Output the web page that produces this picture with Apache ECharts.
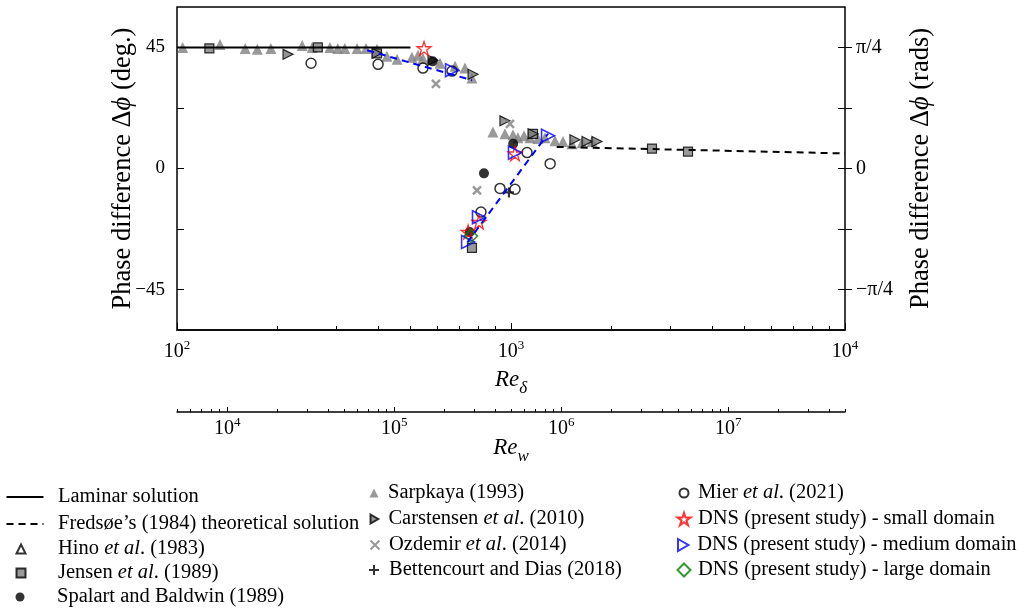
<!DOCTYPE html>
<html><head><meta charset="utf-8">
<script src="https://cdn.jsdelivr.net/npm/echarts@6/dist/echarts.min.js"></script>
<style>html,body{margin:0;padding:0;background:#fff}#c{width:1026px;height:613px}</style>
</head><body><div id="c"></div>
<script>
// ---------- data (Re_delta, phase difference in degrees) ----------
const laminar = [[100, 45], [500, 45]];
const fredsoe = [[1370, 8.0], [10000, 5.6]];
const dnsFitUpper = [[371, 43.9], [764, 32.8]];
const dnsFitLower = [[740, -27.5], [1290, 12.9]];
const hino = [];
const jensen = [[125, 44.6], [264, 45.0], [397, 42.8], [1164, 12.9], [764, -29.5], [2643, 7.4], [3388, 6.3]];
const spalart = [[583, 39.8], [1015, 9.2], [830, -1.8], [752, -23.6]];
const sarpkaya = [
  [104, 45.0], [134.5, 46.1], [160, 44.6], [174, 44.3], [191, 44.6], [237, 45.7], [254, 45.0],
  [287, 45.0], [303, 44.6], [318, 44.6], [346, 44.6], [368, 44.6], [397, 44.3], [425, 41.7],
  [456, 40.6], [505, 41.3], [527, 42.1], [545, 40.9], [613, 39.1], [680, 38.0], [728, 37.3],
  [764, 33.6], [883, 13.6], [959, 12.9], [1014, 12.5], [1049, 11.4], [1094, 12.2], [1140, 11.4],
  [1204, 11.1], [1264, 11.4], [1354, 10.3], [1431, 10.0], [1522, 9.2], [1632, 9.6], [1748, 10.0]
];
const carstensen = [[215, 42.4], [397, 42.8], [584, 40.2], [770, 35.0], [959, 17.7], [1164, 12.9], [1554, 10.7], [1689, 10.0], [1809, 10.0]];
const ozdemir = [[596, 31.4], [993, 16.6], [791, -8.1]];
const bettencourt = [[986, -8.9]];
const mier = [[252, 39.1], [400, 38.7], [545, 37.3], [666, 36.2], [1117, 5.9], [1310, 1.8], [927, -7.4], [1028, -7.7], [813, -16.2]];
const dnsSmall = [[549, 44.6], [1028, 5.5], [802, -19.9], [744, -23.6]];
const dnsMedium = [[666, 36.5], [1291, 12.2], [1028, 5.9], [802, -18.1], [744, -27.3]];
const dnsLarge = [[759, -25.1]];

// ---------- ticks ----------
const yTicksDeg = [-45, -22.5, 0, 22.5, 45];
const yLabelsDeg = [-45, 0, 45];
const degLabelText = { '-45': '\u221245', '0': '0', '45': '45' };
const radLabelText = { '-45': '\u2212\u03c0/4', '0': '0', '45': '\u03c0/4' };
const reDeltaRange = [100, 10000];
const reWRange = [5000, 5e7];
const reWDecades = [4, 5, 6, 7];

const FONT = '"Liberation Serif", "Times New Roman", serif';
const STAR = 'path://M50,2 L61,36 L97,36 L68,57 L79,92 L50,70 L21,92 L32,57 L3,36 L39,36 Z';
const CROSS = 'path://M0,0 L10,10 M10,0 L0,10';
const PLUS = 'path://M5,0 L5,10 M0,5 L10,5';
const RTRI = 'path://M0,0 L17.3,10 L0,20 Z';

function minorLogTicks(lo, hi) {
  const out = [];
  for (let e = Math.floor(Math.log10(lo)); e <= Math.ceil(Math.log10(hi)); e++) {
    for (let k = 2; k <= 9; k++) {
      const v = k * Math.pow(10, e);
      if (v >= lo * 0.999 && v <= hi * 1.001) out.push(Math.log10(v));
    }
  }
  return out;
}
const supRich = {
  b: { fontFamily: FONT, fontSize: 20, lineHeight: 26, color: '#000' },
  s: { fontFamily: FONT, fontSize: 13, lineHeight: 13, verticalAlign: 'top', color: '#000' }
};
const nameRich = {
  i: { fontFamily: FONT, fontSize: 23, fontStyle: 'italic', lineHeight: 34, color: '#000' },
  sub: { fontFamily: FONT, fontSize: 17, fontStyle: 'italic', lineHeight: 17, verticalAlign: 'bottom', color: '#000' }
};
const yNameRich = {
  n: { fontFamily: FONT, fontSize: 26.5, color: '#000' },
  i: { fontFamily: FONT, fontSize: 26.5, fontStyle: 'italic', color: '#000' }
};

const chart = echarts.init(document.getElementById('c'), null, { renderer: 'canvas' });

// legend layout: [name, iconCenterX, textX, centerY, iconW, iconH, isLine]
const legendLayout = [
  ['Laminar solution', 24, 57, 497, 37, 14, true],
  ['Fredsøe\u2019s (1984) theoretical solution', 24, 57, 524, 37, 14, true],
  ['Hino et al. (1983)', 20, 57, 549, 9, 9, false],
  ['Jensen et al. (1989)', 20, 57, 573, 9, 9, false],
  ['Spalart and Baldwin (1989)', 20, 57, 597, 9, 9, false],
  ['Sarpkaya (1993)', 374, 388, 493, 9, 9, false],
  ['Carstensen et al. (2010)', 374, 388, 519, 9, 9, false],
  ['Ozdemir et al. (2014)', 374, 388, 545, 9, 9, false],
  ['Bettencourt and Dias (2018)', 373, 388, 570, 10, 10, false],
  ['Mier et al. (2021)', 683, 697, 493, 9, 9, false],
  ['DNS (present study) - small domain', 683, 697, 519, 13, 13, false],
  ['DNS (present study) - medium domain', 683, 697, 545, 12, 12, false],
  ['DNS (present study) - large domain', 683, 697, 570, 13, 13, false]
];
const LEG_FS = 20.5;
const legends = legendLayout.map(([name, cx, tx, cy, w, h, isLine]) => {
  const lg = {
    data: [name],
    left: cx - w / 2,
    top: cy - 11,
    padding: 0,
    itemGap: 0,
    itemWidth: w,
    itemHeight: h,
    selectedMode: false,
    formatter: n => n.replace('et al', '{i|et al}'),
    textStyle: {
      fontFamily: FONT, fontSize: LEG_FS, color: '#000', lineHeight: 22,
      padding: [0, 0, 0, tx - (cx + w / 2) - 5],
      rich: { i: { fontFamily: FONT, fontSize: LEG_FS, fontStyle: 'italic', color: '#000', lineHeight: 22 } }
    }
  };
  if (isLine) lg.itemStyle = { color: 'rgba(0,0,0,0)', borderColor: 'rgba(0,0,0,0)', borderWidth: 0 };
  return lg;
});

function scatter(name, data, symbol, size, item) {
  return {
    name, type: 'scatter', data, symbol, symbolSize: size,
    itemStyle: item, xAxisIndex: 0, yAxisIndex: 0,
    emphasis: { disabled: true }
  };
}
function line(name, data, color, type) {
  return {
    name, type: 'line', data, symbol: 'none', xAxisIndex: 0, yAxisIndex: 0,
    lineStyle: { color, width: 2, type }, itemStyle: { color }, emphasis: { disabled: true }
  };
}

const option = {
  animation: false,
  backgroundColor: '#fff',
  legend: legends,
  grid: [
    { left: 177, right: 181, top: 7, bottom: 283, show: true, borderColor: '#000', borderWidth: 1.5, backgroundColor: 'transparent' },
    { left: 177, right: 181, top: 411, height: 1, show: false }
  ],
  xAxis: [
    {
      type: 'log', logBase: 10, gridIndex: 0, position: 'bottom',
      min: reDeltaRange[0], max: reDeltaRange[1],
      axisLine: { show: true, onZero: false, lineStyle: { color: '#000', width: 1.5 } },
      axisTick: { show: true, inside: true, length: 7, lineStyle: { color: '#000', width: 1 } },
      splitLine: { show: false },
      axisLabel: {
        margin: 9, color: '#000',
        formatter: v => '{b|10}{s|' + Math.round(Math.log10(v)) + '}', rich: supRich
      },
      name: '{i|Re}{sub|\u03b4}', nameLocation: 'middle', nameGap: 33, nameMoveOverlap: false,
      nameTextStyle: { rich: nameRich }
    },
    {
      type: 'value', gridIndex: 0, position: 'bottom',
      min: Math.log10(reDeltaRange[0]), max: Math.log10(reDeltaRange[1]),
      axisLine: { show: false, onZero: false },
      axisTick: { show: true, inside: true, length: 4, customValues: minorLogTicks(reDeltaRange[0], reDeltaRange[1]), lineStyle: { color: '#000', width: 1 } },
      axisLabel: { show: false }, splitLine: { show: false }
    },
    {
      type: 'value', gridIndex: 1, position: 'bottom',
      min: Math.log10(reWRange[0]), max: Math.log10(reWRange[1]),
      axisLine: { show: true, onZero: false, lineStyle: { color: '#000', width: 1.5 } },
      axisTick: { show: true, inside: true, length: 5, customValues: reWDecades, lineStyle: { color: '#000', width: 1 } },
      axisLabel: {
        margin: 4, color: '#000', customValues: reWDecades,
        formatter: v => '{b|10}{s|' + Math.round(v) + '}', rich: supRich
      },
      splitLine: { show: false },
      name: '{i|Re}{sub|w}', nameLocation: 'middle', nameGap: 19, nameMoveOverlap: false,
      nameTextStyle: { rich: nameRich }
    },
    {
      type: 'value', gridIndex: 1, position: 'bottom',
      min: Math.log10(reWRange[0]), max: Math.log10(reWRange[1]),
      axisLine: { show: false, onZero: false },
      axisTick: { show: true, inside: true, length: 3, customValues: minorLogTicks(reWRange[0], reWRange[1]), lineStyle: { color: '#000', width: 1 } },
      axisLabel: { show: false }, splitLine: { show: false }
    }
  ],
  yAxis: [
    {
      type: 'value', gridIndex: 0, position: 'left', min: -60, max: 60,
      axisLine: { show: false, onZero: false },
      axisTick: { show: true, inside: true, length: 7, customValues: yTicksDeg, lineStyle: { color: '#000', width: 1 } },
      axisLabel: { margin: 12, color: '#000', fontFamily: FONT, fontSize: 19, customValues: yLabelsDeg, formatter: v => degLabelText[String(v)] },
      splitLine: { show: false },
      name: '{n|Phase difference \u0394}{i|\u03d5}{n| (deg.)}', nameLocation: 'middle', nameGap: 40, nameRotate: 90,
      nameMoveOverlap: false,
      nameTextStyle: { rich: yNameRich }
    },
    {
      type: 'value', gridIndex: 0, position: 'right', min: -60, max: 60,
      axisLine: { show: false, onZero: false },
      axisTick: { show: true, inside: false, length: 7, customValues: yTicksDeg, lineStyle: { color: '#000', width: 1 } },
      axisLabel: { margin: 11, color: '#000', fontFamily: FONT, fontSize: 20, customValues: yLabelsDeg, formatter: v => radLabelText[String(v)] },
      splitLine: { show: false },
      name: '{n|Phase difference \u0394}{i|\u03d5}{n| (rads)}', nameLocation: 'middle', nameGap: 63, nameRotate: 90,
      nameMoveOverlap: false,
      nameTextStyle: { rich: yNameRich }
    },
    {
      type: 'value', gridIndex: 0, position: 'right', min: -60, max: 60,
      axisLine: { show: false, onZero: false },
      axisTick: { show: true, inside: true, length: 7, customValues: yTicksDeg, lineStyle: { color: '#000', width: 1 } },
      axisLabel: { show: false }, splitLine: { show: false }
    },
    { type: 'value', gridIndex: 1, show: false, min: 0, max: 1 }
  ],
  series: [
    scatter('Sarpkaya (1993)', sarpkaya, 'triangle', 11, { color: '#808080' }),
    scatter('Hino et al. (1983)', hino, 'triangle', 9, { color: '#fff', borderColor: '#000', borderWidth: 1.5 }),
    scatter('Jensen et al. (1989)', jensen, 'rect', 9, { color: '#808080', borderColor: '#000', borderWidth: 1.2 }),
    scatter('Carstensen et al. (2010)', carstensen, RTRI, 10, { color: '#7a7a7a', borderColor: '#000', borderWidth: 1.2 }),
    scatter('Ozdemir et al. (2014)', ozdemir, CROSS, 8, { color: 'rgba(0,0,0,0)', borderColor: '#808080', borderWidth: 2.5 }),
    line('Laminar solution', laminar, '#000', 'solid'),
    line('Fredsøe\u2019s (1984) theoretical solution', fredsoe, '#000', [7, 5]),
    scatter('Mier et al. (2021)', mier, 'circle', 10, { color: 'rgba(255,255,255,0)', borderColor: '#000', borderWidth: 1.5 }),
    scatter('Spalart and Baldwin (1989)', spalart, 'circle', 10, { color: '#000' }),
    scatter('Bettencourt and Dias (2018)', bettencourt, PLUS, 10, { color: 'rgba(0,0,0,0)', borderColor: '#000', borderWidth: 2.2 }),
    line('DNS fit upper', dnsFitUpper, '#0000ff', [7, 5]),
    line('DNS fit lower', dnsFitLower, '#0000ff', [7, 5]),
    scatter('DNS (present study) - small domain', dnsSmall, STAR, 14, { color: 'rgba(255,255,255,0)', borderColor: '#ff0000', borderWidth: 1.3 }),
    scatter('DNS (present study) - medium domain', dnsMedium, RTRI, 13, { color: 'rgba(255,255,255,0)', borderColor: '#0000ff', borderWidth: 1.6 }),
    scatter('DNS (present study) - large domain', dnsLarge, 'diamond', 13, { color: 'rgba(255,255,255,0)', borderColor: '#008000', borderWidth: 1.6 })
  ]
};
chart.setOption(option);
</script>
</body></html>
